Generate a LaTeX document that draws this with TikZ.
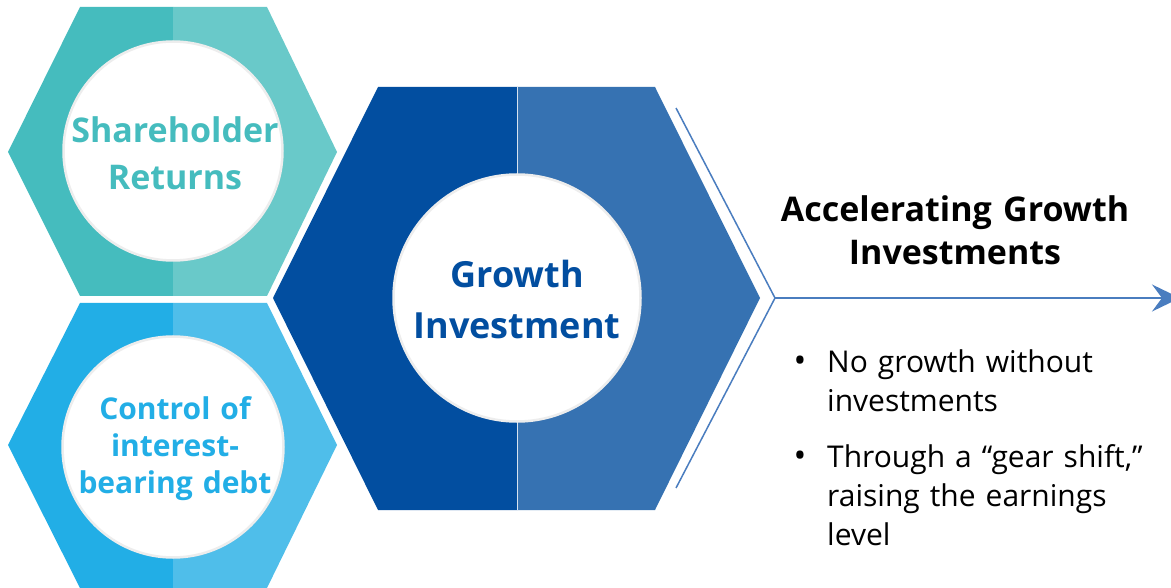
\documentclass[tikz,border=0pt]{standalone}
\usepackage{fontspec}
\setmainfont{Open Sans}
\usetikzlibrary{arrows.meta}
\definecolor{tealA}{HTML}{45BCBE}
\definecolor{tealB}{HTML}{69C9C9}
\definecolor{skyA}{HTML}{22AEE6}
\definecolor{skyB}{HTML}{4FBEEA}
\definecolor{navyA}{HTML}{024EA0}
\definecolor{navyB}{HTML}{3672B2}
\definecolor{linecol}{HTML}{4A7DBF}
\definecolor{ringcol}{HTML}{EDEDED}
\tikzset{
  ring/.style={circle, fill=white, draw=ringcol, line width=2.5pt, inner sep=0pt},
  lbl/.style 2 args={anchor=base, align=center, text width=260pt, inner sep=0pt, font=\bfseries\fontsize{#1}{#2}\selectfont},
  bodytxt/.style={anchor=base west, align=left, text width=330pt, inner sep=0pt, font=\fontsize{30}{39}\selectfont},
  bul/.style={anchor=base, inner sep=0pt, font=\fontsize{34}{39}\selectfont},
}
\begin{document}
\begin{tikzpicture}[x=1pt,y=-1pt]
\clip (0,0) rectangle (1171,588);
\fill[white] (0,0) rectangle (1171,588);
% top hexagon
\fill[tealA] (173,7) -- (80,7) -- (8,152) -- (80,296) -- (173,296) -- cycle;
\fill[tealB] (173,7) -- (267,7) -- (337,152) -- (267,296) -- (173,296) -- cycle;
% bottom hexagon
\fill[skyA] (173,303) -- (80,303) -- (8,445) -- (80,588) -- (173,588) -- cycle;
\fill[skyB] (173,303) -- (267,303) -- (337,445) -- (267,588) -- (173,588) -- cycle;
% middle hexagon
\fill[navyA] (517,87) -- (378,87) -- (273,298) -- (378,510) -- (517,510) -- cycle;
\fill[navyB] (517,87) -- (655,87) -- (760,298) -- (655,510) -- (517,510) -- cycle;
\draw[white!80!navyB, line width=1pt] (517,87) -- (517,510);
% circles
\node[ring, minimum size=219pt] (c1) at (173,151) {};
\node[ring, minimum size=221pt] (c2) at (173,447) {};
\node[ring, minimum size=247pt] (c3) at (517,298) {};
% circle labels
\node[lbl={34}{47}, text=tealA] (t1) at (175,143) {Shareholder\\Returns};
\node[lbl={30}{37}, text=skyA] (t2) at (175,419) {Control of\\interest-\\bearing debt};
\node[lbl={36}{51}, text=navyA] (t3) at (517,288) {Growth\\Investment};
% chevron and arrow
\coordinate (chtop) at (676,108);
\coordinate (chtip) at (775,298);
\coordinate (chbot) at (676,488);
\coordinate (arrend) at (1180,298);
\draw[linecol, line width=1.5pt, line join=miter] (chtop) -- (chtip) -- (chbot);
\draw[linecol, line width=1.5pt, -{Stealth[length=28pt,width=27pt,inset=10pt]}] (chtip) -- (arrend);
% title
\node[anchor=base, align=center, text width=400pt, inner sep=0pt, font=\bfseries\fontsize{34}{43}\selectfont] (title) at (955,222) {Accelerating Growth\\Investments};
% bullets
\node[bul] (b1) at (800,373) {•};
\node[bodytxt] (x1) at (827,373) {No growth without\\investments};
\node[bul] (b2) at (800,467) {•};
\node[bodytxt] (x2) at (827,467) {Through a “gear shift,”\\raising the earnings\\level};
\end{tikzpicture}
\end{document}
